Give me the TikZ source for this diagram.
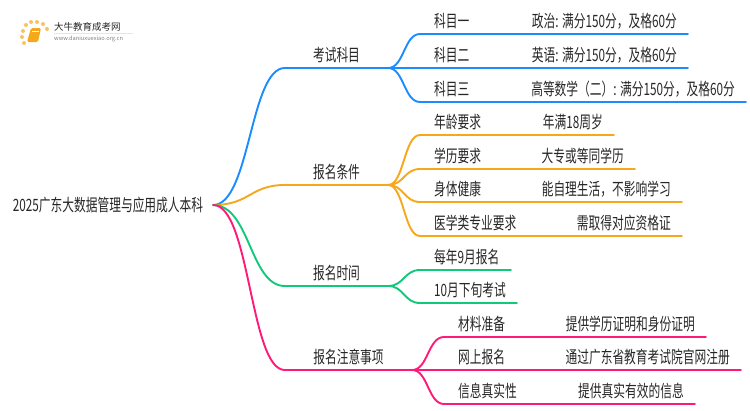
\documentclass[tikz,border=0pt]{standalone}
\usepackage{fontspec}
\setmainfont{Noto Sans CJK SC}[FakeStretch=0.69]
\newfontfamily\logofont{Noto Sans CJK SC}
\usetikzlibrary{shapes}
\definecolor{kaoblue}{HTML}{1A8CFF}
\definecolor{tiaoorange}{HTML}{F5A81C}
\definecolor{shigreen}{HTML}{12C87A}
\definecolor{zhupink}{HTML}{FF1A78}
\definecolor{txtgray}{HTML}{262626}
\tikzset{
  rootnode/.style={anchor=center,inner sep=0pt,font=\fontsize{17}{17}\selectfont,text=txtgray},
  onenode/.style={anchor=south,inner xsep=0pt,inner ysep=0pt,text height=13pt,text depth=6.5pt,font=\fontsize{17}{17}\selectfont,text=txtgray},
  twonode/.style={anchor=south west,inner xsep=14pt,inner ysep=0pt,text height=13pt,text depth=6.5pt,font=\fontsize{17}{17}\selectfont,text=txtgray},
  valnode/.style={anchor=south east,inner xsep=11pt,inner ysep=0pt,text height=13pt,text depth=6.5pt,font=\fontsize{17}{17}\selectfont,text=txtgray},
  branch/.style={line width=1.9pt,line cap=round},
}
\begin{document}
\begin{tikzpicture}[x=1pt,y=-1pt]
\useasboundingbox (0,0) rectangle (750,410);
% logo
\foreach \dx/\dy in {23/31,26/25,31/22,37/22,43/24,47/29,22/37,24/43}
  \fill[tiaoorange!70] (\dx,\dy) circle (2);
\fill[rounded corners=1.5pt,tiaoorange] (31,28) -- (41,28) -- (38,42) -- (27,42) -- cycle;
\draw[white,line width=.5pt] (32,31) -- (39,31);
\draw[gray!20,line width=.5pt] (54,33.5) -- (133,33.5);
\node[anchor=west,inner sep=0pt,font=\logofont\fontsize{9.5}{9.5}\selectfont,text=txtgray] (logotitle) at (54,27) {大牛教育成考网};
\node[anchor=west,inner sep=0pt,font=\logofont\fontsize{5.7}{5.7}\selectfont,text=gray] (logourl) at (54,39) {www.daniuxuexiao.org.cn};
% root
\node[rootnode,minimum width=210pt] (root) at (108,205) {2025广东大数据管理与应用成人本科};
% first level
\node[onenode,minimum width=103pt] (kaoshi) at (336.5,68) {考试科目};
\node[onenode,minimum width=103pt] (tiaojian) at (336.5,185) {报名条件};
\node[onenode,minimum width=103pt] (shijian) at (336.5,286) {报名时间};
\node[onenode,minimum width=127pt] (zhuyi) at (348.5,370) {报名注意事项};
\draw[branch,kaoblue] (root.east) .. controls (250,205) and (250,68) .. (kaoshi.south west) -- (kaoshi.south east);
\draw[branch,tiaoorange] (root.east) .. controls (250,205) and (250,185) .. (tiaojian.south west) -- (tiaojian.south east);
\draw[branch,shigreen] (root.east) .. controls (250,205) and (250,286) .. (shijian.south west) -- (shijian.south east);
\draw[branch,zhupink] (root.east) .. controls (250,205) and (250,370) .. (zhuyi.south west) -- (zhuyi.south east);
% kaoshi
\node[twonode] (kemu1) at (420,34) {科目一};
\node[valnode] (kemu1v) at (688,34) {政治: 满分150分，及格60分};
\node[twonode] (kemu2) at (420,68) {科目二};
\node[valnode] (kemu2v) at (688,68) {英语: 满分150分，及格60分};
\node[twonode] (kemu3) at (420,102) {科目三};
\node[valnode] (kemu3v) at (746,102) {高等数学（二）: 满分150分，及格60分};
\draw[branch,kaoblue] (kaoshi.south east) .. controls (404,68) and (404,34) .. (kemu1.south west) -- (kemu1v.south east);
\draw[branch,kaoblue] (kaoshi.south east) -- (kemu2.south west) -- (kemu2v.south east);
\draw[branch,kaoblue] (kaoshi.south east) .. controls (404,68) and (404,102) .. (kemu3.south west) -- (kemu3v.south east);
% tiaojian
\node[twonode] (nianling) at (420,135) {年龄要求};
\node[valnode] (nianlingv) at (614,135) {年满18周岁};
\node[twonode] (xueli) at (420,169) {学历要求};
\node[valnode] (xueliv) at (635,169) {大专或等同学历};
\node[twonode] (shenti) at (420,202) {身体健康};
\node[valnode] (shentiv) at (682,202) {能自理生活，不影响学习};
\node[twonode] (yixue) at (420,236) {医学类专业要求};
\node[valnode] (yixuev) at (682,236) {需取得对应资格证};
\draw[branch,tiaoorange] (tiaojian.south east) .. controls (404,185) and (404,135) .. (nianling.south west) -- (nianlingv.south east);
\draw[branch,tiaoorange] (tiaojian.south east) .. controls (404,185) and (404,169) .. (xueli.south west) -- (xueliv.south east);
\draw[branch,tiaoorange] (tiaojian.south east) .. controls (404,185) and (404,202) .. (shenti.south west) -- (shentiv.south east);
\draw[branch,tiaoorange] (tiaojian.south east) .. controls (404,185) and (404,236) .. (yixue.south west) -- (yixuev.south east);
% shijian
\node[twonode] (baoming) at (420,270) {每年9月报名};
\coordinate (baomingend) at (511,270);
\node[twonode] (kaoshiyue) at (420,303) {10月下旬考试};
\coordinate (kaoshiyueend) at (517,303);
\draw[branch,shigreen] (shijian.south east) .. controls (404,286) and (404,270) .. (baoming.south west) -- (baomingend);
\draw[branch,shigreen] (shijian.south east) .. controls (404,286) and (404,303) .. (kaoshiyue.south west) -- (kaoshiyueend);
% zhuyi
\node[twonode] (cailiao) at (444,337) {材料准备};
\node[valnode] (cailiaov) at (706,337) {提供学历证明和身份证明};
\node[twonode] (wangshang) at (444,370) {网上报名};
\node[valnode] (wangshangv) at (741,370) {通过广东省教育考试院官网注册};
\node[twonode] (xinxi) at (444,404) {信息真实性};
\node[valnode] (xinxiv) at (695,404) {提供真实有效的信息};
\draw[branch,zhupink] (zhuyi.south east) .. controls (428,370) and (428,337) .. (cailiao.south west) -- (cailiaov.south east);
\draw[branch,zhupink] (zhuyi.south east) -- (wangshang.south west) -- (wangshangv.south east);
\draw[branch,zhupink] (zhuyi.south east) .. controls (428,370) and (428,404) .. (xinxi.south west) -- (xinxiv.south east);
\end{tikzpicture}
\end{document}
